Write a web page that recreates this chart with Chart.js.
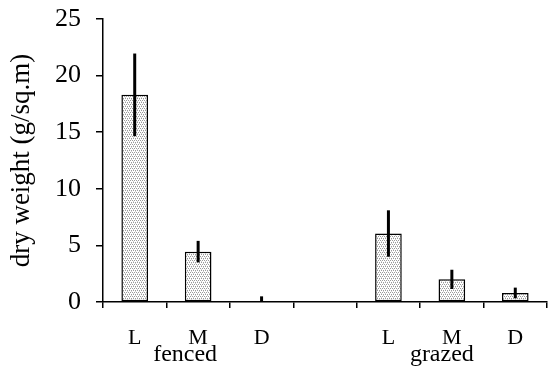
<!DOCTYPE html>
<html>
<head>
<meta charset="utf-8">
<script src="https://cdn.jsdelivr.net/npm/chart.js@4/dist/chart.umd.min.js"></script>
<style>
  html, body { margin: 0; padding: 0; background: #fff; }
</style>
</head>
<body>
<canvas id="myChart" width="548" height="374"></canvas>
<script>
// categories: fenced L M D, gap, grazed L M D
var labels = ['L', 'M', 'D', '', 'L', 'M', 'D']
var weights = [18.3, 4.45, 0.05, null, 6.05, 2.0, 0.8]
var errors = [3.65, 0.95, 0.45, null, 2.05, 0.85, 0.47]
var groupNames = ['fenced', 'grazed']
var groupAt = [1, 5]
var yTicks = [0, 5, 10, 15, 20, 25]

var fontFamily = '"Liberation Serif", "Times New Roman", serif'

var makeDots = function() {
    var c = document.createElement('canvas')
    c.width = 4
    c.height = 4
    var g = c.getContext('2d')
    g.fillStyle = '#ffffff'
    g.fillRect(0, 0, 4, 4)
    g.fillStyle = '#9a9a9a'
    g.fillRect(0, 0, 1, 1)
    g.fillRect(2, 0, 1, 1)
    g.fillRect(1, 2, 1, 1)
    g.fillRect(3, 2, 1, 1)
    g.fillStyle = '#d0d0d0'
    g.fillRect(1, 1, 1, 1)
    g.fillRect(3, 3, 1, 1)
    return g.createPattern(c, 'repeat')
}

var ctx = document.getElementById('myChart').getContext('2d')

var errorBars = {
    id: 'errorBars',
    afterDatasetsDraw: function(chart) {
        var y = chart.scales.y
        var meta = chart.getDatasetMeta(0)
        var area = chart.chartArea
        var c = chart.ctx
        c.save()
        c.beginPath()
        c.rect(area.left, area.top - 20, area.right - area.left, area.bottom - area.top + 20)
        c.clip()
        c.strokeStyle = '#000'
        c.lineWidth = 3
        meta.data.forEach(function(bar, i) {
            if (weights[i] == null) return
            var top = y.getPixelForValue(weights[i] + errors[i])
            var bot = y.getPixelForValue(weights[i] - errors[i])
            c.beginPath()
            c.moveTo(bar.x, top)
            c.lineTo(bar.x, bot)
            c.stroke()
        })
        c.restore()
    }
}

var groupLabels = {
    id: 'groupLabels',
    afterDraw: function(chart) {
        var x = chart.scales.x
        var c = chart.ctx
        c.save()
        c.fillStyle = '#000'
        c.font = '24px ' + fontFamily
        c.textAlign = 'center'
        c.textBaseline = 'alphabetic'
        var shift = [-13, -10]
        groupNames.forEach(function(name, i) {
            c.fillText(name, x.getPixelForValue(groupAt[i]) + shift[i], 361)
        })
        c.restore()
    }
}

var chart = new Chart(ctx, {
    type: 'bar',
    data: {
        labels: labels,
        datasets: [{
            data: weights,
            backgroundColor: makeDots(),
            borderColor: '#000',
            borderWidth: 1.5,
            borderSkipped: false,
            barPercentage: 0.42,
            categoryPercentage: 1,
        }],
    },
    options: {
        responsive: false,
        devicePixelRatio: 1,
        animation: false,
        events: [],
        layout: { padding: { left: 0, right: 1, top: 19, bottom: 0 } },
        plugins: {
            legend: { display: false },
            tooltip: { enabled: false },
        },
        scales: {
            x: {
                afterFit: function(s) {
                    s.height = 72
                    s.paddingLeft = 0
                    s.paddingRight = 0
                },
                border: { color: '#000', width: 1.5 },
                grid: { drawOnChartArea: false, drawTicks: true, tickLength: 6, color: '#000', lineWidth: 1.5, offset: true },
                ticks: { color: '#000', font: { family: fontFamily, size: 22 }, padding: 17, maxRotation: 0, autoSkip: false },
            },
            y: {
                min: 0,
                max: 25,
                afterFit: function(s) {
                    s.width = 103
                    s.paddingTop = 0
                    s.paddingBottom = 0
                },
                afterBuildTicks: function(s) { s.ticks = yTicks.map(function(v) { return { value: v } }) },
                border: { color: '#000', width: 1.5 },
                grid: { drawOnChartArea: false, drawTicks: true, tickLength: 7, color: '#000', lineWidth: 1.5 },
                ticks: { color: '#000', font: { family: fontFamily, size: 26 }, padding: 15 },
                title: {
                    display: true,
                    text: 'dry weight (g/sq.m)',
                    color: '#000',
                    font: { family: fontFamily, size: 27 },
                    padding: { top: 6, bottom: 0 },
                },
            },
        },
    },
    plugins: [errorBars, groupLabels],
})
</script>
</body>
</html>
